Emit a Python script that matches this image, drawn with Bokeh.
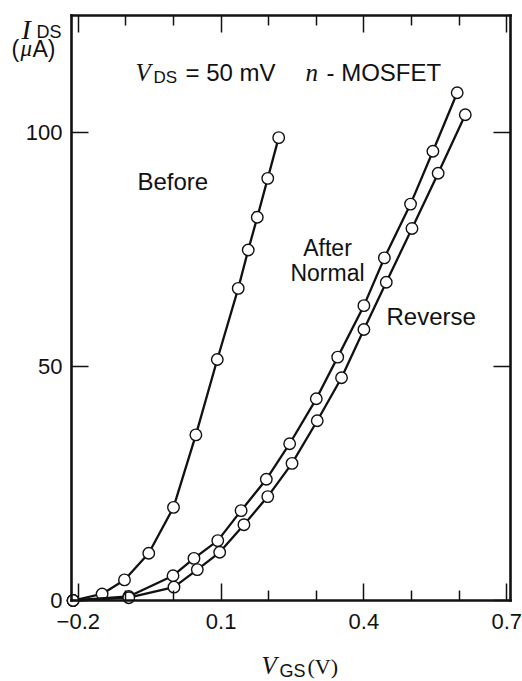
from bokeh.plotting import figure
from bokeh.models import Range1d, LinearAxis, FixedTicker, Label, ColumnDataSource
from bokeh.embed import file_html
from bokeh.resources import INLINE

# ---- data ----
before_vgs = [-0.211, -0.150, -0.103, -0.052, 0.000, 0.047, 0.092, 0.136, 0.157, 0.176, 0.198, 0.221]
before_ids = [0.0, 1.4, 4.4, 10.1, 19.9, 35.4, 51.5, 66.7, 74.9, 81.9, 90.2, 98.9]

normal_vgs = [-0.211, -0.094, -0.001, 0.043, 0.093, 0.142, 0.195, 0.244, 0.300, 0.345, 0.400, 0.443, 0.498, 0.545, 0.596]
normal_ids = [0.0, 0.85, 5.3, 9.0, 12.8, 19.2, 25.9, 33.5, 43.1, 52.0, 63.0, 73.2, 84.7, 96.0, 108.5]

reverse_vgs = [-0.211, -0.094, 0.001, 0.050, 0.097, 0.148, 0.198, 0.249, 0.302, 0.353, 0.400, 0.447, 0.501, 0.556, 0.613]
reverse_ids = [0.0, 0.6, 2.85, 6.6, 10.3, 16.2, 22.2, 29.3, 38.4, 47.6, 57.9, 68.0, 79.5, 91.3, 103.8]

x_major = [-0.2, 0.1, 0.4, 0.7]
x_minor = [-0.1, 0.0, 0.2, 0.3, 0.5, 0.6]
x_labels = {-0.2: "\u22120.2", 0.1: "0.1", 0.4: "0.4", 0.7: "0.7"}
y_major = [0, 50, 100]

# plot box in data units and where it sits on the 522x681 page
BX0, BX1 = -0.2143, 0.708
BY0, BY1 = 0.0, 125.0
L, R, T, B = 71, 510, 15, 600
W, H = 522, 681

kx = (BX1 - BX0) / (R - L)
ky = (BY1 - BY0) / (B - T)
FX0, FX1 = BX0 - L * kx, BX1 + (W - R) * kx
FY0, FY1 = BY0 - (H - B) * ky, BY1 + T * ky

def dx(px):
    return FX0 + px * kx

def dy(py):
    return FY1 - py * ky

SANS = "Liberation Sans"
SERIF = "Liberation Serif"
INK = "#111111"

p = figure(width=W, height=H, x_range=Range1d(FX0, FX1), y_range=Range1d(FY0, FY1),
           output_backend="svg", toolbar_location=None, min_border=0)
p.background_fill_color = "white"
p.border_fill_color = "white"
p.grid.visible = False
p.outline_line_color = None

def style_axis(ax, ticks, minor, loc, bounds, show_labels):
    ax.ticker = FixedTicker(ticks=ticks, minor_ticks=minor)
    ax.fixed_location = loc
    ax.bounds = bounds
    ax.axis_line_color = INK
    ax.axis_line_width = 2.6
    ax.axis_line_cap = "square"
    ax.major_tick_line_color = INK
    ax.major_tick_line_width = 1.5
    ax.minor_tick_line_color = INK
    ax.minor_tick_line_width = 1.5
    ax.major_tick_in = 17
    ax.major_tick_out = 0
    ax.minor_tick_in = 10
    ax.minor_tick_out = 0
    if show_labels:
        ax.major_label_text_font = SANS
        ax.major_label_text_font_size = "22px"
        ax.major_label_text_color = INK
    else:
        ax.major_label_text_color = None
        ax.major_label_standoff = 0

xa = p.xaxis[0]
style_axis(xa, x_major, x_minor, BY0, (BX0, BX1), True)
xa.major_label_overrides = x_labels
xa.major_label_standoff = 13

ya = p.yaxis[0]
style_axis(ya, y_major, [], BX0, (BY0, BY1), True)
ya.major_label_standoff = 9

top = LinearAxis()
p.add_layout(top, "above")
style_axis(top, x_major, x_minor, BY1, (BX0, BX1), False)
right = LinearAxis()
p.add_layout(right, "right")
style_axis(right, y_major, [], BX1, (BY0, BY1), False)

for xs, ys in [(before_vgs, before_ids), (normal_vgs, normal_ids), (reverse_vgs, reverse_ids)]:
    src = ColumnDataSource(dict(x=xs, y=ys))
    p.line("x", "y", source=src, line_color=INK, line_width=2.3)
    p.scatter("x", "y", source=src, marker="circle", size=11.5, fill_color="white",
              line_color=INK, line_width=1.4)

def lab(px, py, text, font=SANS, size=24, style="normal", align="left"):
    p.add_layout(Label(x=dx(px), y=dy(py), text=text, text_font=font, text_font_size=f"{size}px",
                       text_font_style=style, text_align=align, text_baseline="alphabetic",
                       text_color=INK))

# y-axis label
lab(21, 29, "I", SERIF, 28, "italic")
lab(36, 31, "DS", SANS, 18)
lab(11, 48, "(", SANS, 23)
lab(20, 48, "\u03bc", SERIF, 23, "italic")
lab(32, 48, "A)", SANS, 23)

# x-axis label
lab(261, 665, "V", SERIF, 25, "italic")
lab(279, 670, "GS", SANS, 18)
lab(307, 666, "(V)", SERIF, 22)

# header text
lab(135, 72, "V", SERIF, 25, "italic")
lab(153, 77, "DS", SANS, 17)
lab(185, 72, "=  50 mV", SANS, 24)
lab(305, 72, "n", SERIF, 25, "italic")
lab(326, 72, "- MOSFET", SANS, 24)

# curve labels
lab(137, 181, "Before", SANS, 24)
lab(327, 247, "After", SANS, 23, align="center")
lab(327, 272, "Normal", SANS, 23, align="center")
lab(386, 316, "Reverse", SANS, 24)

open("out.html", "w").write(file_html(p, INLINE))
